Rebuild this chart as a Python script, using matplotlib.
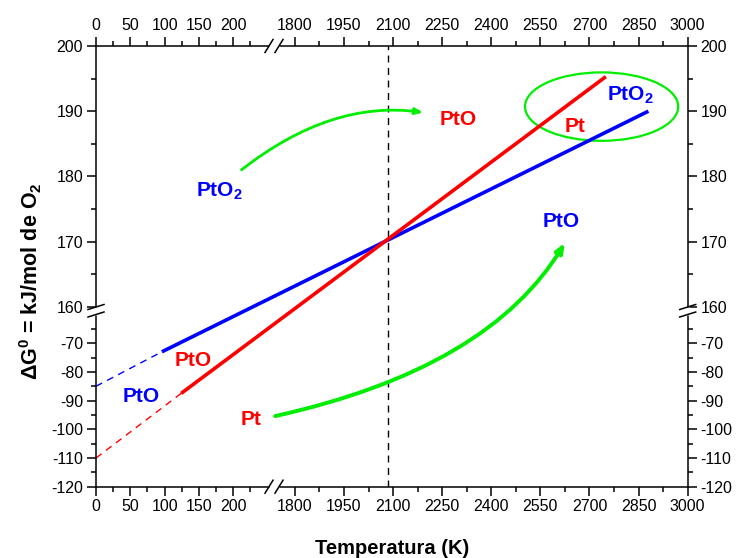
import numpy as np
import matplotlib
matplotlib.use("Agg")
import matplotlib.pyplot as plt
from matplotlib.patches import Ellipse
from matplotlib.ticker import FixedLocator

plt.rcParams['font.family'] = ['Liberation Sans', 'DejaVu Sans']
plt.rcParams['mathtext.fontset'] = 'custom'
plt.rcParams['mathtext.rm'] = 'Liberation Sans'
plt.rcParams['mathtext.bf'] = 'Liberation Sans:bold'
plt.rcParams['mathtext.default'] = 'bf'
plt.rcParams['axes.unicode_minus'] = False

# ---------------- data ----------------
pto2_T_solid = [96, 2880]
pto2_G_solid = [-73, 190]
pto2_T_dash = [0, 96]
pto2_G_dash = [-85, -73]

pt_T_solid = [124, 2750]
pt_G_solid = [-87.5, 195.3]
pt_T_dash = [0, 124]
pt_G_dash = [-110, -87.5]

T_equilibrium = 2085

x_major = [0, 50, 100, 150, 200, 1800, 1950, 2100, 2250, 2400, 2550, 2700, 2850, 3000]
x_minor = [25, 75, 125, 175, 225, 1875, 2025, 2175, 2325, 2475, 2625, 2775, 2925]
y_major = [-120, -110, -100, -90, -80, -70, 160, 170, 180, 190, 200]
y_minor = [-115, -105, -95, -85, -75, -65, 165, 175, 185, 195]

# broken-axis segments (data -> virtual units)
x_anchor_data = [0, 250, 1740, 3000]
x_anchor_virt = [96, 267.6, 275.2, 687.7]
y_anchor_data = [-120, -60, 160, 200]
y_anchor_virt = [-486.7, -314.5, -306.7, -46]

# labels: (text, x, y, color)
labels = [
    ("PtO", 2243, 187.9, 'red'),
    ("PtO$_2$", 146, 176.9, 'blue'),
    ("PtO$_2$", 2752, 191.6, 'blue'),
    ("Pt", 2623, 186.8, 'red'),
    ("PtO", 2558, 172.3, 'blue'),
    ("PtO", 115, -78, 'red'),
    ("PtO", 39, -90.5, 'blue'),
    ("Pt", 211, -98.5, 'red'),
]

# green annotation curves: start, end
curve1_start = (212, 181.0)
curve1_end = (2192, 189.8)
curve2_start = (1740, -95.4)
curve2_end = (2625, 169.8)

ellipse_center = (2737, 190.7)
ellipse_w = 468
ellipse_h = 10.5


def make_pw(xp, fp):
    xp = np.asarray(xp, float)
    fp = np.asarray(fp, float)
    s0 = (fp[1] - fp[0]) / (xp[1] - xp[0])
    s1 = (fp[-1] - fp[-2]) / (xp[-1] - xp[-2])

    def f(v):
        v = np.asarray(v, float)
        out = np.interp(v, xp, fp)
        out = np.where(v < xp[0], fp[0] + (v - xp[0]) * s0, out)
        out = np.where(v > xp[-1], fp[-1] + (v - xp[-1]) * s1, out)
        return out
    return f


fx = make_pw(x_anchor_data, x_anchor_virt)
fx_inv = make_pw(x_anchor_virt, x_anchor_data)
fy = make_pw(y_anchor_data, y_anchor_virt)
fy_inv = make_pw(y_anchor_virt, y_anchor_data)

W, H = 737, 558
fig = plt.figure(figsize=(W / 100, H / 100), dpi=100)
L, R, T, B = 96, 687.7, 46, 486.7
ax = fig.add_axes([L / W, (H - B) / H, (R - L) / W, (B - T) / H])
ax.set_xscale('function', functions=(fx, fx_inv))
ax.set_yscale('function', functions=(fy, fy_inv))
ax.set_xlim(0, 3000)
ax.set_ylim(-120, 200)

ax.axvline(T_equilibrium, color='black', lw=1.0, dashes=(5, 4), zorder=1)

ax.plot(pto2_T_dash, pto2_G_dash, color='blue', lw=1.0, dashes=(5, 4))
ax.plot(pt_T_dash, pt_G_dash, color='red', lw=1.0, dashes=(5, 4))
ax.plot(pto2_T_solid, pto2_G_solid, color='blue', lw=2.6, solid_capstyle='butt')
ax.plot(pt_T_solid, pt_G_solid, color='red', lw=2.6, solid_capstyle='butt')

green = '#00ee00'
ax.add_patch(Ellipse(ellipse_center, ellipse_w, ellipse_h, fill=False,
                     edgecolor=green, lw=1.6))
ax.annotate('', xy=curve1_end, xytext=curve1_start,
            arrowprops=dict(arrowstyle='-|>,head_length=0.45,head_width=0.18',
                            connectionstyle='angle3,angleA=38,angleB=-8',
                            color=green, lw=2.0, shrinkA=0, shrinkB=0))
ax.annotate('', xy=curve2_end, xytext=curve2_start,
            arrowprops=dict(arrowstyle='-|>,head_length=0.55,head_width=0.22',
                            connectionstyle='angle3,angleA=12.5,angleB=59',
                            color=green, lw=2.8, shrinkA=0, shrinkB=0))

for txt, x, y, c in labels:
    ax.text(x, y, txt, color=c, fontsize=15, fontweight='bold',
            ha='left', va='baseline')

# ticks
ax.set_xticks(x_major)
ax.xaxis.set_minor_locator(FixedLocator(x_minor))
ax.set_yticks(y_major)
ax.yaxis.set_minor_locator(FixedLocator(y_minor))
ax.set_xticklabels([str(v) for v in x_major])
ax.set_yticklabels([str(v) for v in y_major])
ax.tick_params(which='both', direction='out', top=True, right=True,
               labeltop=True, labelright=True, width=1.1, labelsize=11.5, pad=3)
ax.tick_params(which='major', length=6.2)
ax.tick_params(which='minor', length=3.6)
for s in ax.spines.values():
    s.set_linewidth(1.1)

ax.set_xlabel('Temperatura (K)', fontsize=14.5, fontweight='bold', va='center')
ax.xaxis.set_label_coords(0.5, (B - 548) / (B - T))
ax.set_ylabel('ΔG$^0$ = kJ/mol de O$_2$', fontsize=15.5, fontweight='bold', va='center')
ax.yaxis.set_label_coords((31 - L) / (R - L), (B - 281) / (B - T))

# break marks (axis decorations in axes fraction)
aw, ah = R - L, B - T
xb = [(269 - L) / aw, (279 - L) / aw]
yb = [(B - 314.5) / ah, (B - 307) / ah]
for yy in (0, 1):
    ax.plot([xb[0], xb[1]], [yy, yy], transform=ax.transAxes, color='white',
            lw=2.5, clip_on=False, zorder=5, solid_capstyle='butt')
    for c in xb:
        ax.plot([c - 4 / aw, c + 4 / aw], [yy - 6.5 / ah, yy + 6.5 / ah],
                transform=ax.transAxes, color='black', lw=1.1, clip_on=False, zorder=6)
for xx in (0, 1):
    ax.plot([xx, xx], [yb[0], yb[1]], transform=ax.transAxes, color='white',
            lw=2.5, clip_on=False, zorder=5, solid_capstyle='butt')
    for c in yb:
        ax.plot([xx - 8 / aw, xx + 8 / aw], [c - 2.5 / ah, c + 2.5 / ah],
                transform=ax.transAxes, color='black', lw=1.1, clip_on=False, zorder=6)

fig.savefig('out.png', dpi=100)
